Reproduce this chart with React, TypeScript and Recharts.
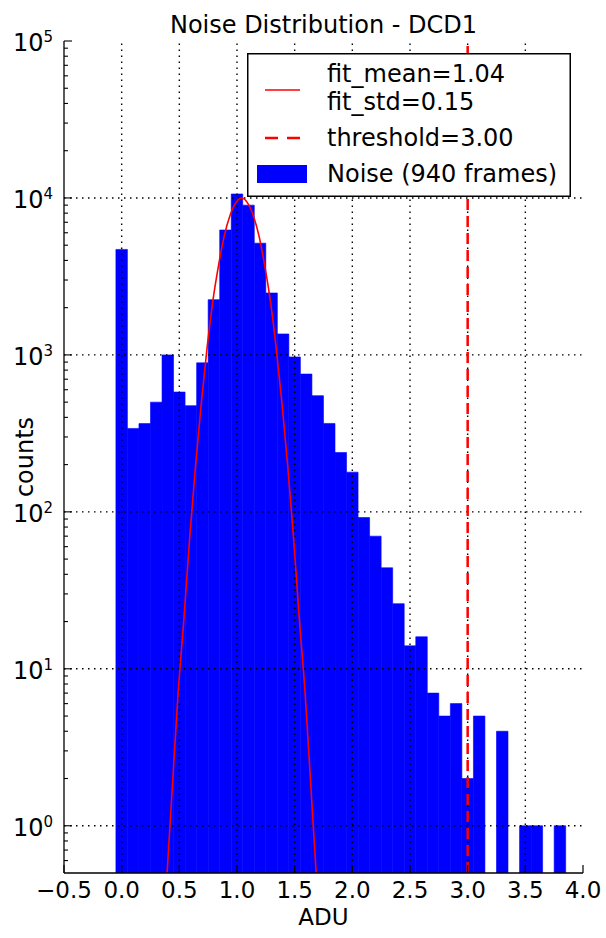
import React from "react";
import {
  ComposedChart,
  Bar,
  Line,
  XAxis,
  YAxis,
  ReferenceLine,
  Legend,
  Label,
} from "recharts";

// histogram bins (centre of each 0.1-wide bin) and counts
const binCenters = [
  0.0, 0.1, 0.2, 0.3, 0.4, 0.5, 0.6, 0.7, 0.8, 0.9, 1.0, 1.1, 1.2, 1.3, 1.4, 1.5, 1.6, 1.7, 1.8, 1.9,
  2.0, 2.1, 2.2, 2.3, 2.4, 2.5, 2.6, 2.7, 2.8, 2.9, 3.0, 3.1, 3.2, 3.3, 3.4, 3.5, 3.6, 3.7, 3.8,
];
const binCounts = [
  4700, 340, 365, 500, 1000, 580, 475, 890, 2250, 6250, 10600, 9000, 5150, 2480, 1360, 970, 755, 550, 366, 239,
  179, 92, 70, 44, 26, 14, 16, 7, 5, 6, 2, 5, 0, 4, 0, 1, 1, 0, 1,
];

// gaussian fit curve, sampled from the red line
const fitX = [
  0.39, 0.44, 0.49, 0.54, 0.59, 0.64, 0.69, 0.74, 0.79, 0.84, 0.89, 0.94, 0.99, 1.04,
  1.09, 1.14, 1.19, 1.24, 1.29, 1.34, 1.39, 1.44, 1.49, 1.54, 1.59, 1.64, 1.69,
];
const fitY = [
  0.45, 1.8, 7.1, 21, 69, 195, 490, 1100, 2190, 3720, 5750, 7760, 9330, 10000,
  9330, 7760, 5750, 3720, 2190, 1100, 490, 195, 69, 21, 7.1, 1.8, 0.45,
];

const fitMean = 1.04;
const fitStd = 0.15;
const threshold = 3.0;
const nFrames = 940;

const xTicks = [-0.5, 0, 0.5, 1, 1.5, 2, 2.5, 3, 3.5, 4];
const xGrid = [0, 0.5, 1, 1.5, 2, 2.5, 3, 3.5];
const yGrid = [1, 10, 100, 1000, 10000];

const yTicks: number[] = [];
for (let e = -1; e <= 4; e++) {
  for (let m = 1; m <= 9; m++) {
    const v = m * Math.pow(10, e);
    if (v > 0.5 && v <= 100000) yTicks.push(v);
  }
}
yTicks.push(100000);

const histData = binCenters
  .map((x, i) => ({ x, count: binCounts[i] }))
  .filter((d) => d.count > 0);
const fitData = fitX.map((x, i) => ({ x, fit: fitY[i] }));

const FONT = "DejaVu Sans";
const GRID_DASH = "1.5 4.5";

const fmtX = (v: number) => (v < 0 ? "\u2212" + Math.abs(v).toFixed(1) : v.toFixed(1));

function XTick(props: any) {
  const { x, y, payload, side } = props;
  const dir = side === "top" ? 1 : -1;
  return (
    <g>
      <line x1={x} x2={x} y1={y} y2={y + dir * 8} stroke="#000" strokeWidth={1.2} />
      {side === "bottom" && (
        <text x={x} y={y + 25} textAnchor="middle" fontSize={23} fontFamily={FONT} fill="#000">
          {fmtX(payload.value)}
        </text>
      )}
    </g>
  );
}

function YTick(props: any) {
  const { x, y, payload, side } = props;
  const v = payload.value as number;
  const lg = Math.log10(v);
  const exp = Math.round(lg);
  const major = Math.abs(lg - exp) < 1e-6;
  const dir = side === "left" ? 1 : -1;
  return (
    <g>
      <line x1={x} x2={x + dir * (major ? 8 : 4)} y1={y} y2={y} stroke="#000" strokeWidth={1.1} />
      {side === "left" && major && (
        <text x={x - 11} y={y + 10} textAnchor="end" fontSize={24} fontFamily={FONT} fill="#000">
          10
          <tspan dy={-9} fontSize={15}>
            {exp}
          </tspan>
        </text>
      )}
    </g>
  );
}

const renderLegend = () => (
  <svg width={324} height={144} style={{ display: "block" }} fontFamily={FONT} fontSize={24}>
    <rect x={0.75} y={0.75} width={322.5} height={142.5} fill="#fff" stroke="#000" strokeWidth={1.5} />
    <line x1={18} x2={53} y1={37} y2={37} stroke="#ff0000" strokeWidth={1.5} />
    <text x={80} y={28.5} fill="#000">{`fit_mean=${fitMean.toFixed(2)}`}</text>
    <text x={80} y={57} fill="#000">{`fit_std=${fitStd.toFixed(2)}`}</text>
    <line x1={18} x2={53} y1={85} y2={85} stroke="#ff0000" strokeWidth={2.5} strokeDasharray="13 9" />
    <text x={80} y={93} fill="#000">{`threshold=${threshold.toFixed(2)}`}</text>
    <rect x={10} y={112} width={50} height={18} fill="#0000ff" />
    <text x={80} y={128.5} fill="#000">{`Noise (${nFrames} frames)`}</text>
  </svg>
);

export default function App() {
  return (
    <div style={{ position: "absolute", left: 0, top: 0, width: 606, height: 938, background: "#fff" }}>
      <div
        style={{
          position: "absolute",
          left: 64,
          top: 13,
          width: 519,
          textAlign: "center",
          fontFamily: FONT,
          fontSize: 24,
          lineHeight: "24px",
          color: "#000",
        }}
      >
        Noise Distribution - DCD1
      </div>
      <ComposedChart
        width={606}
        height={938}
        data={histData}
        margin={{ top: 41, right: 23, bottom: 0, left: 0 }}
        barCategoryGap={0}
        barGap={0}
      >
        <XAxis
          xAxisId="fit"
          type="number"
          dataKey="x"
          domain={[-0.5, 4]}
          ticks={xTicks}
          interval={0}
          height={65}
          tickLine={false}
          tickSize={0}
          tickMargin={0}
          tick={(p: any) => <XTick {...p} side="bottom" />}
          axisLine={{ stroke: "#000", strokeWidth: 1.3 }}
          allowDataOverflow
        >
          <Label
            content={({ viewBox }: any) => (
              <text
                x={viewBox.x + viewBox.width / 2}
                y={viewBox.y + 52}
                textAnchor="middle"
                fontSize={23}
                fontFamily={FONT}
                fill="#000"
              >
                ADU
              </text>
            )}
          />
        </XAxis>
        <XAxis
          xAxisId="bins"
          type="number"
          dataKey="x"
          domain={[-0.5, 4]}
          height={0}
          hide
          allowDataOverflow
        />
        <XAxis
          xAxisId="top"
          orientation="top"
          type="number"
          domain={[-0.5, 4]}
          ticks={xTicks}
          interval={0}
          height={0}
          tickLine={false}
          tickSize={0}
          tickMargin={0}
          tick={(p: any) => <XTick {...p} side="top" />}
          axisLine={{ stroke: "#000", strokeWidth: 1.3 }}
          allowDataOverflow
        />
        <YAxis
          yAxisId="left"
          type="number"
          scale="log"
          domain={[0.5, 100000]}
          ticks={yTicks}
          interval={0}
          width={64}
          tickLine={false}
          tickSize={0}
          tickMargin={0}
          tick={(p: any) => <YTick {...p} side="left" />}
          axisLine={{ stroke: "#000", strokeWidth: 1.3 }}
          allowDataOverflow
        >
          <Label
            content={({ viewBox }: any) => {
              const cx = viewBox.x + 33;
              const cy = viewBox.y + viewBox.height / 2;
              return (
                <text
                  x={cx}
                  y={cy}
                  textAnchor="middle"
                  fontSize={24}
                  fontFamily={FONT}
                  fill="#000"
                  transform={`rotate(-90, ${cx}, ${cy})`}
                >
                  counts
                </text>
              );
            }}
          />
        </YAxis>
        <YAxis
          yAxisId="right"
          orientation="right"
          type="number"
          scale="log"
          domain={[0.5, 100000]}
          ticks={yTicks}
          interval={0}
          width={0}
          tickLine={false}
          tickSize={0}
          tickMargin={0}
          tick={(p: any) => <YTick {...p} side="right" />}
          axisLine={{ stroke: "#000", strokeWidth: 1.3 }}
          allowDataOverflow
        />
        <Bar
          xAxisId="bins"
          yAxisId="left"
          dataKey="count"
          barSize={11.5}
          fill="#0000ff"
          stroke="#0000ff"
          strokeWidth={0.6}
          isAnimationActive={false}
        />
        {xGrid.map((v) => (
          <ReferenceLine
            key={`gx${v}`}
            xAxisId="fit"
            yAxisId="left"
            x={v}
            stroke="#000"
            strokeWidth={1.4}
            strokeDasharray={GRID_DASH}
          />
        ))}
        {yGrid.map((v) => (
          <ReferenceLine
            key={`gy${v}`}
            xAxisId="fit"
            yAxisId="left"
            y={v}
            stroke="#000"
            strokeWidth={1.4}
            strokeDasharray={GRID_DASH}
          />
        ))}
        <Line
          xAxisId="fit"
          yAxisId="left"
          data={fitData}
          dataKey="fit"
          type="monotone"
          stroke="#ff0000"
          strokeWidth={1.6}
          dot={false}
          isAnimationActive={false}
        />
        <ReferenceLine
          xAxisId="fit"
          yAxisId="left"
          x={threshold}
          stroke="#ff0000"
          strokeWidth={2.5}
          strokeDasharray="11 6"
        />
        <Legend
          layout="vertical"
          align="center"
          verticalAlign="middle"
          content={renderLegend}
          wrapperStyle={{ left: 247, top: 53, width: 324, height: 144 }}
        />
      </ComposedChart>
    </div>
  );
}
